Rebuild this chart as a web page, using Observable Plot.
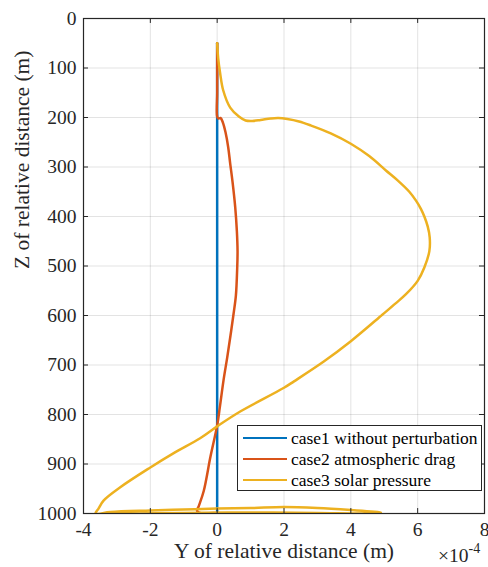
<!DOCTYPE html>
<html>
<head>
<meta charset="utf-8">
<script src="https://cdn.jsdelivr.net/npm/d3@7"></script>
<script src="https://cdn.jsdelivr.net/npm/@observablehq/plot@0.6"></script>
<style>
  html, body { margin: 0; padding: 0; background: #fff; }
  #wrap { position: relative; width: 488px; height: 567px; font-family: "Liberation Serif", "Times New Roman", Times, "DejaVu Serif", serif; }
  #wrap svg, #wrap svg text { font-family: "Liberation Serif", "Times New Roman", Times, "DejaVu Serif", serif !important; }
  #legend { position: absolute; left: 237px; top: 425px; width: 245px; height: 66px; border: 1px solid #262626; background: #fff; box-sizing: border-box; font-size: 17.5px; color: #000; }
  .row { position: absolute; left: 0; height: 20px; display: flex; align-items: center; white-space: nowrap; }
  .sw { width: 44px; height: 0; border-top: 2.5px solid; margin-left: 5px; margin-right: 4px; }
</style>
</head>
<body>
<div id="wrap"></div>
<script>
// ---- data (Y in units of 1e-4 m, Z in m) ----
const xTicks = [-4, -2, 0, 2, 4, 6, 8];
const zTicks = [0, 100, 200, 300, 400, 500, 600, 700, 800, 900, 1000];
const seriesNames = ["case1 without perturbation", "case2 atmospheric drag", "case3 solar pressure"];
const seriesColors = ["#0072BD", "#D95319", "#EDB120"];

const case1Y = [0, 0, 0, 0];
const case1Z = [50, 400, 800, 1000];

const case2Y = [0, 0, 0, 0, 0.04, 0.1, 0.17, 0.25, 0.33, 0.39, 0.46, 0.54, 0.59, 0.61, 0.6, 0.56, 0.49, 0.4, 0.3, 0.19, 0.08, 0.0, -0.2, -0.4, -0.55, -0.6, -0.45, -0.1, 0.3, 0.6];
const case2Z = [50, 100, 150, 198, 202, 201, 210, 230, 260, 293, 330, 381, 430, 470, 503, 560, 597, 640, 685, 731, 785, 822, 885, 954, 985, 995, 1000, 999, 1000, 1003];

const case3Y = [0, 0.03, 0.09, 0.18, 0.39, 0.65, 0.85, 1.05, 1.3, 1.6, 1.83, 2.1, 2.45, 2.8, 3.4, 4.0, 4.55, 5.05, 5.4, 5.75, 5.95, 6.1, 6.2, 6.3, 6.36, 6.35, 6.2, 6.0, 5.65, 5.35, 4.95, 4.0, 3.19, 2.3, 2.0, 0.69, 0, -0.51, -1.3, -2, -2.9, -3.4, -3.55, -3.64, -3.2, -2, -1, 0, 1, 2, 3, 4, 4.6, 4.9, 4.5, 3, 1, -1, -2.5, -3.5];
const case3Z = [50, 80, 111, 145, 180, 198, 206, 207, 205, 202, 201, 203, 208, 216, 232, 253, 278, 307, 327, 350, 368, 385, 400, 420, 442, 470, 503, 530, 557, 575, 598, 652, 693, 733, 746, 794, 824, 848, 878, 907, 947, 974, 990, 1000, 997, 994, 992, 990, 989, 987, 989, 993, 996, 998, 1000, 999, 998, 999, 1000, 1002];

const toRows = (ys, zs) => ys.map((y, i) => ({y, z: zs[i]}));
const case1 = toRows(case1Y, case1Z);
const case2 = toRows(case2Y, case2Z);
const case3 = toRows(case3Y, case3Z);

const axisColor = "#262626";
const serif = "Liberation Serif, Times New Roman, Times, DejaVu Serif, serif";
const tickLenZ = 10;   // inward tick length in z units (~5px)
const tickLenX = 0.15; // inward tick length in x units (~5px)

const lineOpts = (c) => ({x: "y", y: "z", stroke: c, strokeWidth: 2.5, strokeLinejoin: "round", strokeLinecap: "round", clip: true, curve: "catmull-rom"});

const chart = Plot.plot({
  width: 488,
  height: 567,
  marginLeft: 83,
  marginRight: 4,
  marginTop: 18,
  marginBottom: 54,
  style: {fontFamily: serif, fontSize: "19.5px", color: "#262626", background: "white", overflow: "visible"},
  x: {domain: [-4, 8], ticks: xTicks, label: null},
  y: {domain: [0, 1000], reverse: true, ticks: zTicks, label: null},
  marks: [
    Plot.gridX(xTicks, {stroke: axisColor, strokeOpacity: 0.13, strokeWidth: 1}),
    Plot.gridY(zTicks, {stroke: axisColor, strokeOpacity: 0.13, strokeWidth: 1}),
    Plot.axisX(xTicks, {anchor: "bottom", tickSize: 0, tickPadding: 9, fontSize: 19.5, fontFamily: serif, fill: axisColor, label: null, tickFormat: d => String(d)}),
    Plot.axisY(zTicks, {anchor: "left", tickSize: 0, tickPadding: 7, fontSize: 19.5, fontFamily: serif, fill: axisColor, label: null, tickFormat: d => String(d)}),
    Plot.line(case1, lineOpts(seriesColors[0])),
    Plot.line(case2, lineOpts(seriesColors[1])),
    Plot.line(case3, lineOpts(seriesColors[2])),
    // inward ticks (MATLAB style, box on)
    Plot.ruleX(xTicks, {x: d => d, y1: 1000, y2: 1000 - tickLenZ, stroke: axisColor}),
    Plot.ruleX(xTicks, {x: d => d, y1: 0, y2: tickLenZ, stroke: axisColor}),
    Plot.ruleY(zTicks, {y: d => d, x1: -4, x2: -4 + tickLenX, stroke: axisColor}),
    Plot.ruleY(zTicks, {y: d => d, x1: 8, x2: 8 - tickLenX, stroke: axisColor}),
    Plot.frame({stroke: axisColor, strokeWidth: 1.2}),
    Plot.text(["Y of relative distance (m)"], {frameAnchor: "bottom", text: d => d, dy: 44, fontSize: 21.5, fontFamily: serif, fill: axisColor}),
    Plot.text(["Z of relative distance (m)"], {frameAnchor: "left", text: d => d, rotate: -90, dx: -61, dy: 3, fontSize: 21.5, fontFamily: serif, fill: axisColor}),
    Plot.text(["\u00d710"], {frameAnchor: "bottom-right", text: d => d, textAnchor: "end", dx: -16, dy: 48, fontSize: 19.5, fontFamily: serif, fill: axisColor}),
    Plot.text(["-4"], {frameAnchor: "bottom-right", text: d => d, textAnchor: "start", dx: -16, dy: 39, fontSize: 14, fontFamily: serif, fill: axisColor})
  ]
});

const wrap = document.getElementById("wrap");
wrap.appendChild(chart);

const legend = document.createElement("div");
legend.id = "legend";
const rowTops = [2, 23, 44];
seriesNames.forEach((name, i) => {
  const row = document.createElement("div");
  row.className = "row";
  row.style.top = rowTops[i] + "px";
  const sw = document.createElement("span");
  sw.className = "sw";
  sw.style.borderTopColor = seriesColors[i];
  const tx = document.createElement("span");
  tx.textContent = name;
  row.appendChild(sw);
  row.appendChild(tx);
  legend.appendChild(row);
});
wrap.appendChild(legend);
</script>
</body>
</html>
